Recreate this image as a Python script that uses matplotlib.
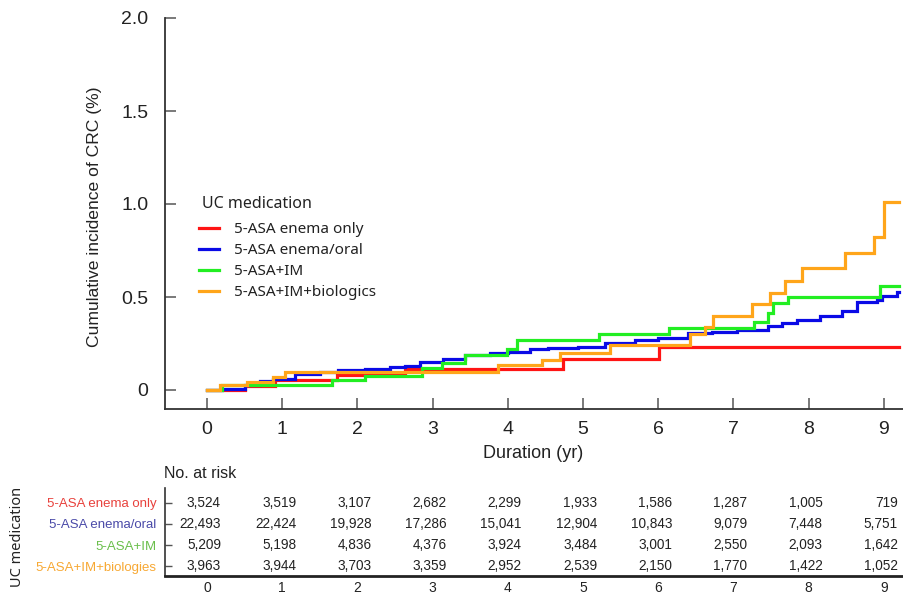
import matplotlib
matplotlib.use("Agg")
import matplotlib.pyplot as plt
import matplotlib.transforms as mtransforms
from matplotlib import font_manager

W, H = 904, 596
DPI = 100

names = {f.name for f in font_manager.fontManager.ttflist}
NARROW = ["Liberation Sans Narrow", "DejaVu Sans"] if "Liberation Sans Narrow" in names else ["Liberation Sans", "DejaVu Sans"]
REG = ["Noto Sans", "DejaVu Sans"]

# ---------------- data ----------------
series_names = ["5-ASA enema only", "5-ASA enema/oral", "5-ASA+IM", "5-ASA+IM+biologics"]
row_labels = ["5-ASA enema only", "5-ASA enema/oral", "5-ASA+IM", "5-ASA+IM+biologies"]
line_colors = ["#ff1414", "#0a0ae6", "#22ee22", "#ffa51a"]
label_colors = ["#e8413c", "#4a4aa8", "#6abf4b", "#f7a833"]

red_t = [0, 0.50, 0.90, 1.73, 2.63, 4.73, 6.01]
red_v = [0, 0.022, 0.054, 0.081, 0.113, 0.167, 0.231]

blue_t = [0, 0.20, 0.50, 0.70, 0.88, 1.17, 1.50, 1.74, 2.10, 2.43, 2.63, 2.83, 3.14, 3.43, 3.76,
          4.00, 4.30, 4.53, 4.93, 5.29, 5.69, 6.00, 6.40, 6.72, 7.05, 7.46, 7.65, 7.85, 8.15,
          8.44, 8.64, 8.91, 8.98, 9.18]
blue_v = [0, 0.005, 0.027, 0.048, 0.059, 0.086, 0.097, 0.108, 0.113, 0.124, 0.129, 0.151, 0.167,
          0.188, 0.199, 0.204, 0.220, 0.226, 0.231, 0.253, 0.269, 0.280, 0.306, 0.312, 0.323,
          0.344, 0.360, 0.376, 0.398, 0.425, 0.473, 0.484, 0.505, 0.527]

green_t = [0, 0.20, 1.66, 2.10, 2.86, 3.13, 3.43, 3.99, 4.12, 5.21, 6.14, 7.27, 7.46, 7.53, 7.73, 8.95]
green_v = [0, 0.027, 0.054, 0.075, 0.118, 0.145, 0.188, 0.220, 0.269, 0.301, 0.333, 0.366,
           0.414, 0.468, 0.500, 0.559]

orange_t = [0, 0.17, 0.53, 0.88, 1.04, 3.87, 4.45, 4.69, 5.36, 6.42, 6.62, 6.73, 7.25, 7.49,
            7.69, 7.91, 8.48, 8.87, 9.00]
orange_v = [0, 0.027, 0.043, 0.070, 0.097, 0.134, 0.161, 0.199, 0.242, 0.301, 0.339, 0.398,
            0.462, 0.522, 0.586, 0.656, 0.737, 0.823, 1.011]

end_time = 9.2

years = list(range(10))
ytick_vals = [0, 0.5, 1.0, 1.5, 2.0]
ytick_labels = ["0", "0.5", "1.0", "1.5", "2.0"]

risk_enema_only = [3524, 3519, 3107, 2682, 2299, 1933, 1586, 1287, 1005, 719]
risk_enema_oral = [22493, 22424, 19928, 17286, 15041, 12904, 10843, 9079, 7448, 5751]
risk_im = [5209, 5198, 4836, 4376, 3924, 3484, 3001, 2550, 2093, 1642]
risk_bio = [3963, 3944, 3703, 3359, 2952, 2539, 2150, 1770, 1422, 1052]

# ---------------- figure ----------------
fig = plt.figure(figsize=(W / DPI, H / DPI), dpi=DPI)


def px_axes(left, top, right, bottom):
    return fig.add_axes([left / W, 1 - bottom / H, (right - left) / W, (bottom - top) / H])


AX_L, AX_R = 165, 904
ax = px_axes(AX_L, 18, AX_R, 409)
x0 = 207
xs = 75.2
ax.set_xlim((AX_L - x0) / xs, (AX_R - x0) / xs)
ax.set_ylim((390 - 409) / 186, 2.0)

all_t = [red_t, blue_t, green_t, orange_t]
all_v = [red_v, blue_v, green_v, orange_v]
for t, v, c, n in zip(all_t, all_v, line_colors, series_names):
    ax.step(list(t) + [end_time], list(v) + [v[-1]], where="post", color=c, lw=2.3,
            label=n, solid_joinstyle="miter")

for s in ["top", "right"]:
    ax.spines[s].set_visible(False)
for s in ["left", "bottom"]:
    ax.spines[s].set_color("#333333")
    ax.spines[s].set_linewidth(1.3)

ax.set_yticks(ytick_vals)
ax.set_yticklabels(ytick_labels, fontsize=14, family=NARROW, color="#222222")
ax.set_xticks(years)
ax.set_xticklabels([str(y) for y in years], fontsize=14, family=NARROW, color="#222222")
ax.tick_params(axis="y", direction="in", length=8, width=1.1, color="#555555", pad=12)
ax.tick_params(axis="x", direction="in", length=8, width=1.1, color="#555555", pad=9)

fig.text(95 / W, 1 - 217 / H, "Cumulative incidence of CRC (%)", rotation=90,
         ha="center", va="center", fontsize=12.6, family=NARROW, color="#222222")
fig.text(533 / W, 1 - 454 / H, "Duration (yr)", ha="center", va="center",
         fontsize=13, family=NARROW, color="#222222")

fig.text(202 / W, 1 - 204 / H, "UC medication", ha="left", va="center",
         fontsize=11.5, family=REG, color="#222222")
leg = ax.legend(loc="upper left", bbox_to_anchor=(199 / W, 1 - 222 / H),
                bbox_transform=fig.transFigure, frameon=False,
                prop={"family": REG, "size": 11},
                handlelength=1.3, handletextpad=1.0, labelspacing=0.4, borderpad=0,
                borderaxespad=0)
for txt in leg.get_texts():
    txt.set_color("#222222")

# ---------------- risk table ----------------
tax = px_axes(AX_L, 488, AX_R, 576)
tax.set_xlim(ax.get_xlim())
k = 21.0
ymin = 1 - 10 / k
tax.set_ylim(ymin, ymin + 88 / k)
for s in ["top", "right"]:
    tax.spines[s].set_visible(False)
tax.spines["left"].set_color("#333333")
tax.spines["left"].set_linewidth(1.2)
tax.spines["bottom"].set_color("#222222")
tax.spines["bottom"].set_linewidth(2.0)

rows = [4, 3, 2, 1]
risks = [risk_enema_only, risk_enema_oral, risk_im, risk_bio]
tax.set_yticks(rows)
tax.set_yticklabels(row_labels, fontsize=9.5, family=NARROW)
for lab, c in zip(tax.get_yticklabels(), label_colors):
    lab.set_color(c)
tax.tick_params(axis="y", direction="in", length=5, width=1, color="#555555", pad=6)
tax.set_xticks(years)
tax.set_xticklabels([str(y) for y in years], fontsize=10, family=NARROW, color="#222222")
tax.tick_params(axis="x", length=0, pad=3.5)

off = mtransforms.offset_copy(tax.transData, fig=fig, x=14, y=0, units="dots")
for r, vals in zip(rows, risks):
    for yr, val in zip(years, vals):
        tax.text(yr, r, f"{val:,}", transform=off, ha="right", va="center",
                 fontsize=9.8, family=NARROW, color="#222222")

fig.text(164 / W, 1 - 474 / H, "No. at risk", ha="left", va="center",
         fontsize=11.5, family=NARROW, color="#222222")
fig.text(18 / W, 1 - 537 / H, "UC medication", rotation=90, ha="center", va="center",
         fontsize=10.5, family=REG, color="#222222")

fig.savefig("out.png", dpi=DPI)
